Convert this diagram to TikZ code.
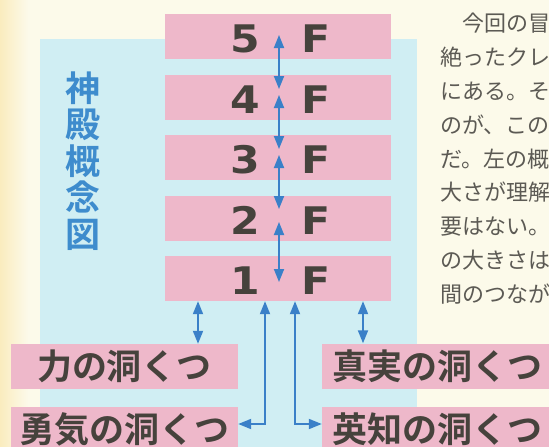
\documentclass[tikz,border=0pt]{standalone}
\usepackage{fontspec}
\usetikzlibrary{arrows.meta,calc}
\newfontfamily\cjk{Noto Sans CJK JP}[BoldFont={Noto Sans CJK JP Bold}]
\newfontfamily\flrfont{DejaVu Sans}[FakeStretch=1.12]
\definecolor{cream}{RGB}{252,250,234}
\definecolor{leftyellow}{RGB}{250,236,190}
\definecolor{panelblue}{RGB}{208,238,243}
\definecolor{boxpink}{RGB}{238,184,202}
\definecolor{arrowblue}{RGB}{58,128,200}
\definecolor{titleblue}{RGB}{62,140,205}
\definecolor{darktext}{RGB}{70,66,60}
\definecolor{paratext}{RGB}{92,90,84}
\begin{document}
\begin{tikzpicture}[x=1pt,y=-1pt,
  floorbox/.style={fill=boxpink,draw=none,inner sep=0pt,minimum width=226pt,minimum height=45pt},
  flr/.style={inner sep=0pt,text=darktext,font=\flrfont\bfseries\fontsize{38}{40}\selectfont},
  cavebox/.style={fill=boxpink,draw=none,inner sep=0pt,minimum height=45pt,text=darktext,
    font=\cjk\bfseries\fontsize{35}{38}\selectfont},
  dbl/.style={{Triangle[length=13pt,width=10pt]}-{Triangle[length=13pt,width=10pt]},line width=1.8pt,draw=arrowblue},
  titlestyle/.style={inner sep=0pt,align=center,text=titleblue,font=\cjk\bfseries\fontsize{35}{36.5}\selectfont},
  para/.style={inner sep=0pt,anchor=base west,text=paratext,font=\cjk\fontsize{22}{26}\selectfont}]
\useasboundingbox (0,0) rectangle (549,447);
\clip (0,0) rectangle (549,447);
% background
\fill[cream] (0,0) rectangle (549,447);
\shade[left color=leftyellow,right color=cream] (0,0) rectangle (28,447);
\fill[panelblue] (40,39) rectangle (417,450);
% floors
\foreach \k/\yy in {5/36.5,4/97,3/157.5,2/218,1/278.5}{
  \node[floorbox] (f\k) at (278,\yy) {};
  \node[flr] (n\k) at ([xshift=-33pt,yshift=-2.5pt]f\k.center) {\k};
  \node[flr] (F\k) at ([xshift=38pt,yshift=-2.5pt]f\k.center) {F};
}
% title
\node[titlestyle] (title) at (83,161) {神\\殿\\概\\念\\図};
% caves
\node[cavebox,minimum width=227pt] (k1) at (124.5,366.5) {力の洞くつ};
\node[cavebox,minimum width=230pt] (s1) at (437,366) {真実の洞くつ};
\node[cavebox,minimum width=227pt] (y1) at (124.5,429.5) {勇気の洞くつ};
\node[cavebox,minimum width=230pt] (e1) at (437,429.5) {英知の洞くつ};
% central stair arrows
\draw[dbl] ([xshift=1pt,yshift=1.5pt]f5.center) -- ([xshift=1pt,yshift=8pt]f4.center);
\draw[dbl] ([xshift=1pt,yshift=2pt]f4.center) -- ([xshift=1pt,yshift=8.5pt]f3.center);
\draw[dbl] ([xshift=1pt,yshift=2.5pt]f3.center) -- ([xshift=1pt,yshift=9pt]f2.center);
\draw[dbl] ([xshift=1pt,yshift=-4pt]f2.center) -- ([xshift=1pt,yshift=-3.5pt]f1.center);
% cave arrows
\draw[dbl] ([xshift=-80pt]f1.south) -- ([xshift=-80pt]f1.south |- k1.north);
\draw[dbl] ([xshift=85pt]f1.south) -- ([xshift=85pt]f1.south |- s1.north);
\draw[dbl] ([xshift=-13pt]f1.south) |- ([yshift=5.5pt]y1.east);
\draw[dbl] ([xshift=17pt]f1.south) |- ([yshift=5.5pt]e1.west);
% paragraph
\foreach \t [count=\i] in {　今回の冒,絶ったクレ,にある。そ,のが、この,だ。左の概,大さが理解,要はない。,の大きさは,間のつなが}{
  \node[para] (p\i) at (440,{31.4+33.9*(\i-1)}) {\t};
}
\end{tikzpicture}
\end{document}
